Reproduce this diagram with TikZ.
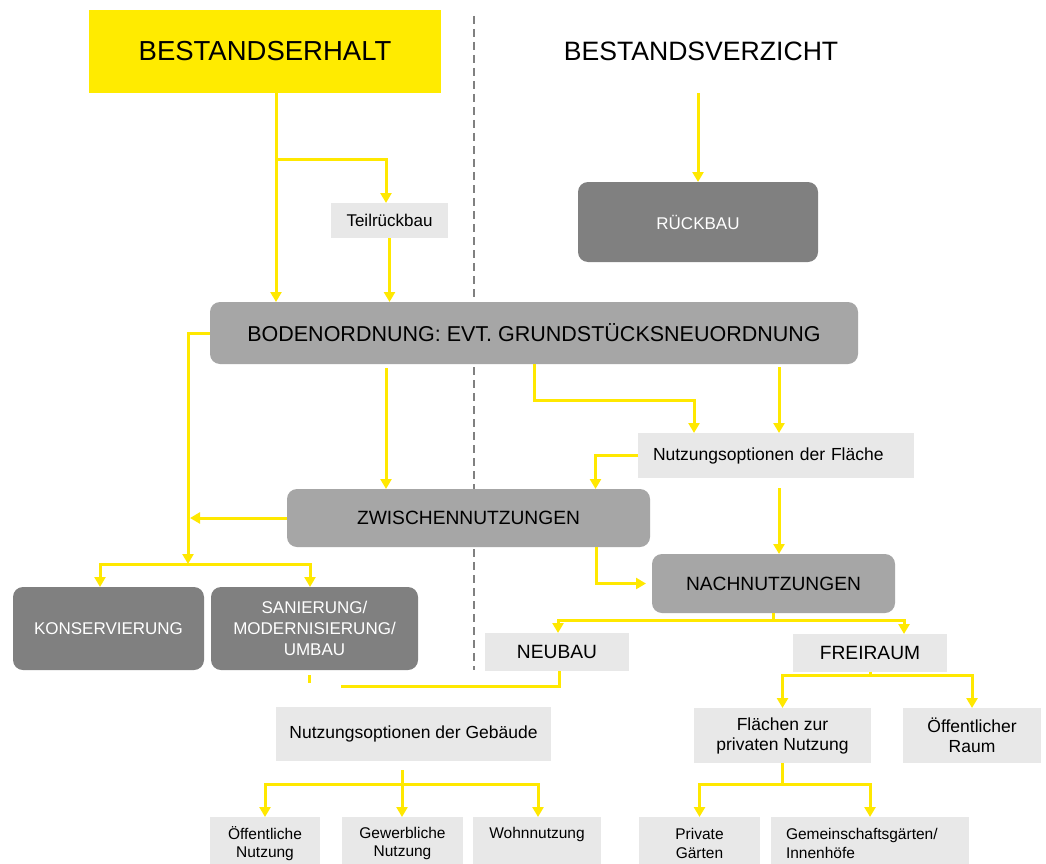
\documentclass[tikz,border=0pt]{standalone}
\usepackage{fontspec}
\setmainfont{Liberation Sans}
\usetikzlibrary{arrows.meta}
\definecolor{ylw}{HTML}{FFE800}
\definecolor{ylwbox}{HTML}{FFEB00}
\definecolor{darkbox}{HTML}{808080}
\definecolor{midbox}{HTML}{A6A6A6}
\definecolor{lightbox}{HTML}{E8E8E8}
\definecolor{dashgray}{HTML}{808080}
\begin{document}
\begin{tikzpicture}[x=1pt,y=-1pt,
 every node/.style={inner sep=0pt, outer sep=0pt, align=center},
 sz/.style 2 args={minimum width=#1pt, minimum height=#2pt},
 ylwnode/.style={fill=ylwbox, font=\fontsize{27.5}{31}\selectfont},
 darknode/.style={fill=darkbox, rounded corners=10pt, text=white, font=\fontsize{17}{20.7}\selectfont},
 midnode/.style={fill=midbox, rounded corners=10pt, text=black},
 lightnode/.style={fill=lightbox, text=black},
 bignum/.style={font=\fontsize{19.2}{23}\selectfont},
 medtxt/.style={font=\fontsize{17.5}{20}\selectfont},
 smalltxt/.style={font=\fontsize{15.5}{18.3}\selectfont},
 conn/.style={draw=ylw, line width=3pt},
 arr/.style={conn, -{Triangle[length=10pt,width=11pt]}},
 arrs/.style={conn, {Triangle[length=10pt,width=11pt]}-{Triangle[length=10pt,width=11pt]}},
 divider/.style={draw=dashgray, line width=1.6pt, dash pattern=on 8pt off 5pt}
]
\useasboundingbox (0,0) rectangle (1046,864);
\clip (0,0) rectangle (1046,864);
\fill[white] (0,0) rectangle (1046,864);

\draw[divider] (474,16) -- (474,670);

% nodes
\node[ylwnode, sz={352}{83}] (erhalt) at (265,51.5) {BESTANDSERHALT};
\node[font=\fontsize{26.6}{30}\selectfont, minimum height=84pt] (verzicht) at (701,51) {BESTANDSVERZICHT};
\node[darknode, sz={240}{80}] (rueck) at (698,222) {RÜCKBAU};
\node[lightnode, sz={117}{35}, font=\fontsize{17}{20}\selectfont] (teil) at (389.5,220.5) {Teilrückbau};
\node[midnode, sz={648}{62}, font=\fontsize{21.5}{25}\selectfont] (boden) at (534,333) {BODENORDNUNG: EVT. GRUNDSTÜCKSNEUORDNUNG};
\node[lightnode, medtxt, minimum height=45pt, text width=246pt, inner xsep=15pt, align=left] (flaeche) at (776,455.5) {Nutzungsoptionen der Fläche};
\node[midnode, bignum, sz={363}{58}] (zwischen) at (468.5,518) {ZWISCHENNUTZUNGEN};
\node[midnode, bignum, sz={243}{59}] (nach) at (773.5,583.5) {NACHNUTZUNGEN};
\node[darknode, sz={191}{83}] (kons) at (108.5,628.5) {KONSERVIERUNG};
\node[darknode, sz={207}{83}] (san) at (314.5,628.5) {SANIERUNG/\\MODERNISIERUNG/\\UMBAU};
\node[lightnode, bignum, sz={144}{38}] (neubau) at (557,652) {NEUBAU};
\node[lightnode, bignum, sz={154}{38}] (frei) at (870,653) {FREIRAUM};
\node[lightnode, medtxt, sz={275}{54}] (gebaeude) at (413.5,734) {Nutzungsoptionen der Gebäude};
\node[lightnode, medtxt, sz={177}{55}] (flpriv) at (782.5,735.5) {Flächen zur\\privaten Nutzung};
\node[lightnode, medtxt, sz={138}{55}] (oeffraum) at (972,735.5) {Öffentlicher\\Raum};
\node[lightnode, smalltxt, sz={110}{53}] (oeff) at (265,843.5) {Öffentliche\\Nutzung};
\node[lightnode, smalltxt, sz={121}{53}] (gewerb) at (402.5,843.5) {Gewerbliche\\Nutzung};
\node[lightnode, smalltxt, sz={128}{53}] (wohn) at (537,843.5) {Wohnnutzung\\\phantom{Nutzung}};
\node[lightnode, smalltxt, sz={121}{53}] (privg) at (699.5,843.5) {Private\\Gärten};
\node[lightnode, smalltxt, minimum height=53pt, text width=168pt, inner xsep=15pt, align=left] (gemein) at (870,843.5) {Gemeinschaftsgärten/\\Innenhöfe};

% connectors
\draw[arr] ([xshift=11pt]erhalt.south) -- ([xshift=11pt]erhalt.south |- boden.north);
\draw[arr] ([xshift=11pt,yshift=-66pt]erhalt.south) -| ([xshift=-3.5pt]teil.north);
\draw[arr] (teil.south) -- (teil.south |- boden.north);
\draw[arr] (verzicht.south -| rueck.north) -- (rueck.north);

\coordinate (lsplit) at (188,564);
\draw[arr] (boden.west) -| (lsplit);
\draw[arrs] ([xshift=-8.5pt]kons.north) |- (lsplit) -| ([xshift=-4.5pt]san.north);
\draw[arr] (zwischen.west) -- ([xshift=2pt]zwischen.west -| lsplit);

\draw[arr] ([xshift=-148pt,yshift=-4pt]boden.south) -- ([xshift=-148pt]boden.south |- zwischen.north);
\draw[arr] (boden.south) -- ++(0,36) -| ([xshift=-82pt]flaeche.north);
\draw[arr] ([xshift=245pt,yshift=-3pt]boden.south) -- ([xshift=245pt]boden.south |- flaeche.north);
\draw[arr] (flaeche.west) -| ([xshift=127pt]zwischen.north);
\draw[arr] ([xshift=3pt,yshift=-10pt]flaeche.south) -- ([xshift=3pt]flaeche.south |- nach.north);
\draw[arr] ([xshift=127.5pt]zwischen.south) |- ([xshift=-6pt]nach.west);

\draw[conn] (nach.south) -- ++(0,7) coordinate (nsplit);
\draw[arrs] ([xshift=1pt]neubau.north) |- (nsplit) -| ([xshift=34pt]frei.north);

\draw[conn] (frei.south) -- ++(0,3) coordinate (fsplit);
\draw[arrs] (flpriv.north) |- (fsplit) -| (oeffraum.north);

\draw[conn] (flpriv.south) -- ++(0,21) coordinate (psplit);
\draw[arrs] (privg.north) |- (psplit) -| (gemein.north);

\coordinate (nbend) at (341,686);
\draw[conn] ([xshift=2pt]neubau.south) |- (nbend);
\draw[conn] ([xshift=-5.5pt,yshift=-5pt]san.south) -- ++(0,8);

\draw[conn] ([xshift=-11.5pt,yshift=-9pt]gebaeude.south) -- ++(0,14) coordinate (gsplit);
\draw[arrs] (oeff.north) |- (gsplit) -| ([xshift=1pt]wohn.north);
\draw[arr] (gsplit) -- (gsplit |- gewerb.north);
\end{tikzpicture}
\end{document}
